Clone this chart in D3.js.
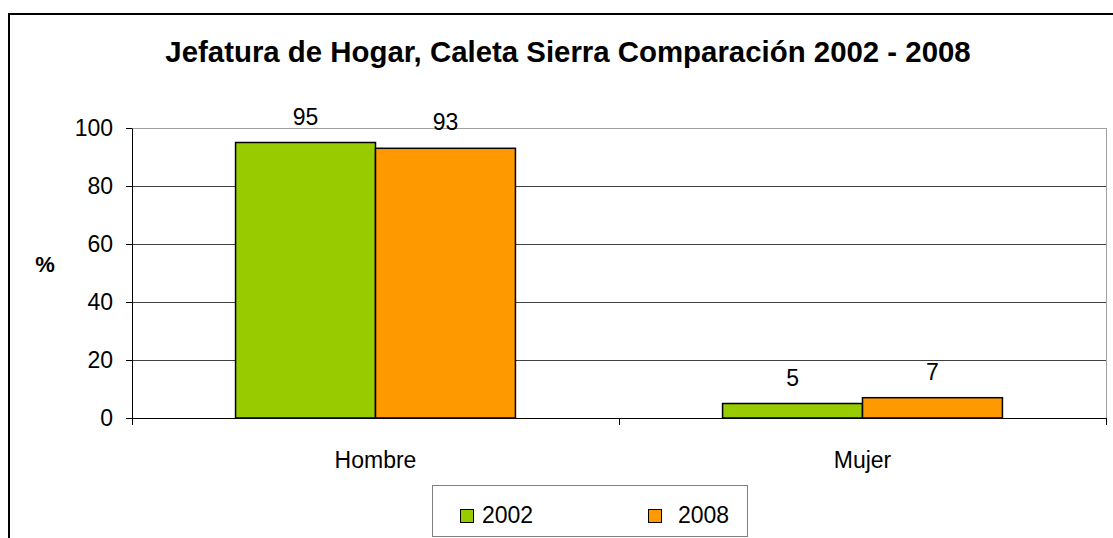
<!DOCTYPE html>
<html>
<head>
<meta charset="utf-8">
<script src="https://cdn.jsdelivr.net/npm/d3@7"></script>
<style>
  body { margin: 0; background: #fff; }
  text { font-family: Arial, "Liberation Sans", sans-serif; fill: #000; }
</style>
</head>
<body>
<div id="chart"></div>
<script>
// data
var categories = ["Hombre", "Mujer"];
var years = ["2002", "2008"];
var values2002 = [95, 5];
var values2008 = [93, 7];
var yTicks = [0, 20, 40, 60, 80, 100];
var colors = ["#99cc00", "#ff9900"];

var rows = categories.map(function(c, i) {
  return { cat: c, vals: [values2002[i], values2008[i]] };
});

var svg = d3.select("#chart")
  .append("svg")
  .attr("width", 1113).attr("height", 538);

// outer frame
svg.append("rect")
  .attr("x", 9).attr("y", 14)
  .attr("width", 1112).attr("height", 540)
  .attr("fill", "#fff")
  .attr("stroke", "#000")
  .attr("stroke-width", 2);

// title
svg.append("text")
  .attr("x", 568).attr("y", 62)
  .attr("text-anchor", "middle")
  .style("font-size", "29.4px")
  .style("font-weight", "bold")
  .text("Jefatura de Hogar, Caleta Sierra Comparación 2002 - 2008");

var plotL = 132, plotR = 1106, plotT = 128, plotB = 418;

var x = d3.scaleBand().domain(categories).range([plotL, plotR]);
var xs = d3.scaleBand().domain(years).range([0, x.bandwidth()]).paddingOuter(0.74);
var y = d3.scaleLinear().domain([0, 100]).range([plotB, plotT]);

// plot area border
svg.append("rect")
  .attr("x", plotL + 0.5).attr("y", plotT + 0.5)
  .attr("width", plotR - plotL).attr("height", plotB - plotT)
  .attr("fill", "#fff")
  .attr("stroke", "#a0a0a0")
  .attr("stroke-width", 1);

// gridlines
svg.append("g")
  .selectAll("line")
  .data(yTicks.filter(function(t) { return t > 0 && t < 100; }))
  .join("line")
  .attr("x1", plotL).attr("x2", plotR)
  .attr("y1", function(d) { return Math.round(y(d)) + 0.5; })
  .attr("y2", function(d) { return Math.round(y(d)) + 0.5; })
  .attr("stroke", "#404040");

// y axis
var yAxis = svg.append("g")
  .attr("transform", "translate(" + plotL + ",0)")
  .call(d3.axisLeft(y).tickValues(yTicks).tickSize(6).tickPadding(13).tickSizeOuter(0));
yAxis.selectAll("text").style("font-size", "23px").attr("dy", "0.32em");
yAxis.selectAll("line, path").attr("stroke", "#000");

// x axis
var xAxis = svg.append("g")
  .attr("transform", "translate(0," + plotB + ")")
  .call(d3.axisBottom(x).tickSize(0).tickPadding(34).tickSizeOuter(0));
xAxis.select(".domain").attr("stroke", "#000");
xAxis.selectAll("text").style("font-size", "23px");
// category separators
svg.append("g")
  .selectAll("line")
  .data([plotL, plotL + x.bandwidth(), plotR])
  .join("line")
  .attr("x1", function(d) { return d + 0.5; }).attr("x2", function(d) { return d + 0.5; })
  .attr("y1", plotB).attr("y2", plotB + 7)
  .attr("stroke", "#000");

// bars
var groups = svg.append("g")
  .selectAll("g")
  .data(rows)
  .join("g")
  .attr("transform", function(d) { return "translate(" + x(d.cat) + ",0)"; });

groups.selectAll("rect")
  .data(function(d) { return d.vals; })
  .join("rect")
  .attr("x", function(d, i) { return xs(years[i]); })
  .attr("y", function(d) { return y(d); })
  .attr("width", xs.bandwidth())
  .attr("height", function(d) { return plotB - y(d); })
  .attr("fill", function(d, i) { return colors[i]; })
  .attr("stroke", "#000")
  .attr("stroke-width", 1.5);

groups.selectAll("text")
  .data(function(d) { return d.vals; })
  .join("text")
  .attr("x", function(d, i) { return xs(years[i]) + xs.bandwidth() / 2; })
  .attr("y", function(d) { return y(d) - 18; })
  .attr("text-anchor", "middle")
  .style("font-size", "23px")
  .text(function(d) { return d; });

// y label
svg.append("text")
  .attr("x", 45).attr("y", 272)
  .attr("text-anchor", "middle")
  .style("font-size", "22px")
  .style("font-weight", "bold")
  .text("%");

// legend
var legend = svg.append("g");
legend.append("rect")
  .attr("x", 432.5).attr("y", 485.5)
  .attr("width", 315).attr("height", 51)
  .attr("fill", "#fff")
  .attr("stroke", "#808080");

var legX = [460, 648];
var legText = [482, 678];
years.forEach(function(yr, i) {
  legend.append("rect")
    .attr("x", legX[i] + 0.5).attr("y", 509.5)
    .attr("width", 13).attr("height", 13)
    .attr("fill", colors[i])
    .attr("stroke", "#000");
  legend.append("text")
    .attr("x", legText[i]).attr("y", 523)
    .style("font-size", "23px")
    .text(yr);
});
</script>
</body>
</html>
